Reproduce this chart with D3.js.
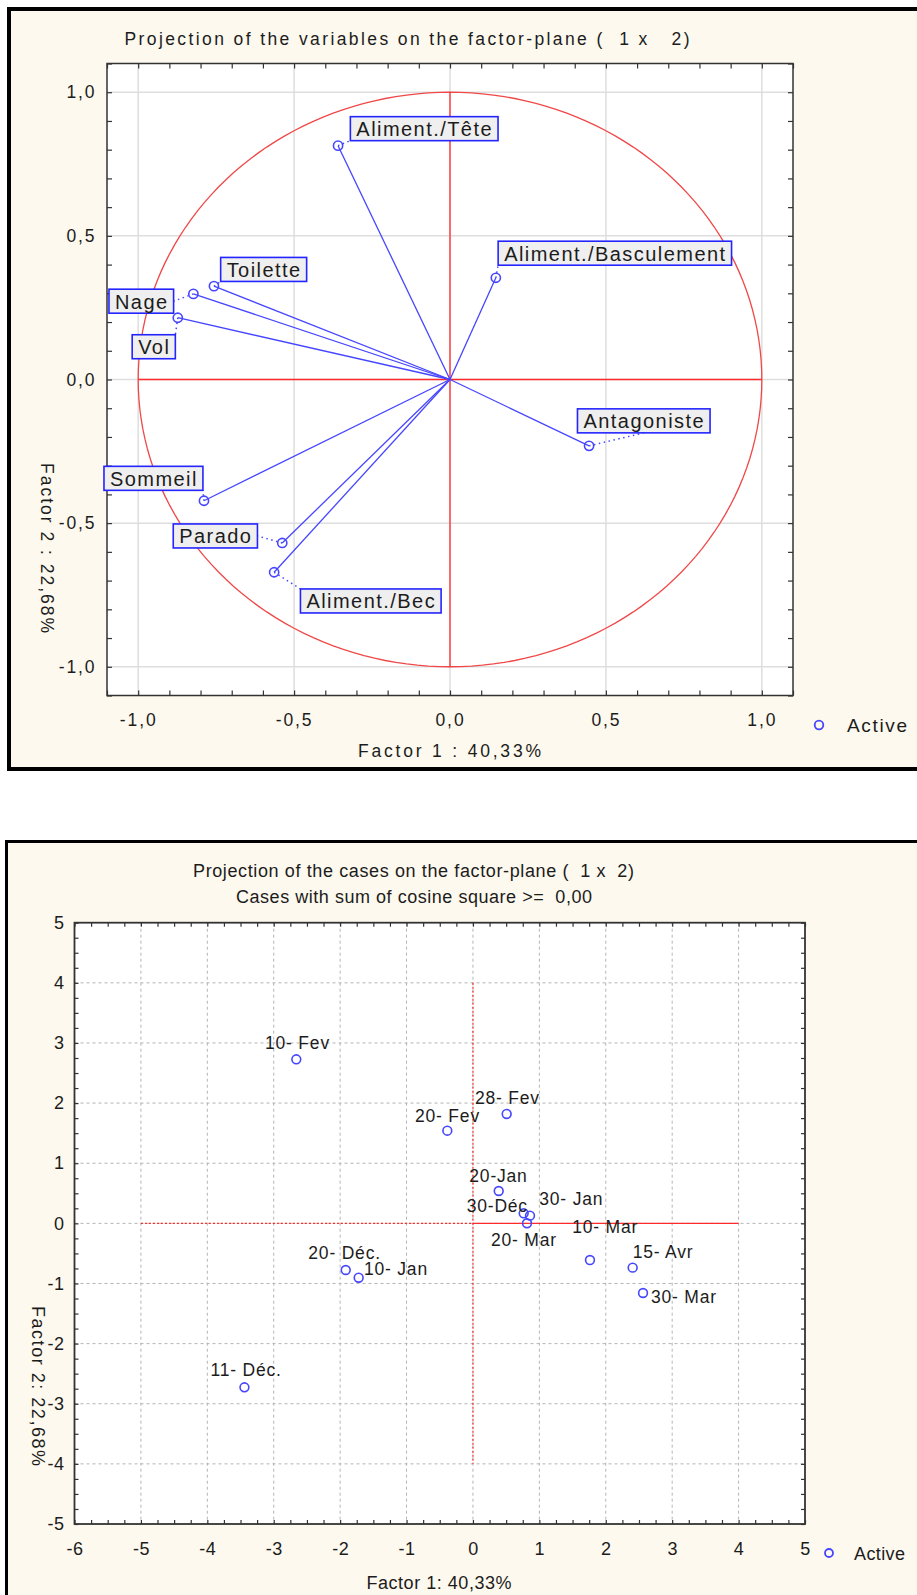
<!DOCTYPE html>
<html>
<head>
<meta charset="utf-8">
<script src="https://cdn.jsdelivr.net/npm/d3@7"></script>
<style>
  body { margin: 0; background: #ffffff; }
  svg { display: block; }
  text { font-family: "Liberation Sans", Arial, sans-serif; fill: #1c1c1c; white-space: pre; }
</style>
</head>
<body>
<svg id="chart" width="917" height="1595"></svg>
<script>
// ---------------- DATA ----------------
// Chart 1 : projection of the variables (factor loadings)
const variableNames = ["Aliment./Tête", "Aliment./Basculement", "Toilette", "Nage", "Vol",
                       "Sommeil", "Parado", "Aliment./Bec", "Antagoniste"];
const variableFactor1 = [-0.359, 0.147, -0.757, -0.823, -0.873, -0.789, -0.538, -0.564, 0.446];
const variableFactor2 = [0.814, 0.354, 0.325, 0.298, 0.215, -0.422, -0.569, -0.671, -0.231];
const variableTicks = [-1.0, -0.5, 0.0, 0.5, 1.0];
const variableMinorTicks = [-1.1, -1.0, -0.9, -0.8, -0.7, -0.6, -0.5, -0.4, -0.3, -0.2, -0.1, 0.0,
                            0.1, 0.2, 0.3, 0.4, 0.5, 0.6, 0.7, 0.8, 0.9, 1.0, 1.1];

// Chart 2 : projection of the cases
const caseNames = ["11- Déc.", "20- Déc.", "30-Déc", "10- Jan", "20-Jan", "30- Jan", "10- Fev",
                   "20- Fev", "28- Fev", "10- Mar", "20- Mar", "30- Mar", "15- Avr"];
const caseFactor1 = [-3.441, -1.916, 0.764, -1.721, 0.388, 0.859, -2.660, -0.386, 0.508, 1.762, 0.814, 2.561, 2.405];
const caseFactor2 = [-2.727, -0.776, 0.167, -0.904, 0.538, 0.128, 2.728, 1.541, 1.819, -0.610, 0.001, -1.158, -0.737];
const caseXTicks = [-6, -5, -4, -3, -2, -1, 0, 1, 2, 3, 4, 5];
const caseYTicks = [-5, -4, -3, -2, -1, 0, 1, 2, 3, 4, 5];
const caseMinorXTicks = d3.range(-6, 5.01, 0.25);
const caseMinorYTicks = d3.range(-5, 5.01, 0.25);

// Texts
const title1 = "Projection of the variables on the factor-plane (  1 x   2)";
const title2a = "Projection of the cases on the factor-plane (  1 x  2)";
const title2b = "Cases with sum of cosine square >=  0,00";
const axisX1Title = "Factor 1 : 40,33%";
const axisY1Title = "Factor 2 : 22,68%";
const axisX2Title = "Factor 1: 40,33%";
const axisY2Title = "Factor 2: 22,68%";
const legendLabel = "Active";

// ---------------- LAYOUT (positions / styles) ----------------
// label box offsets (px) relative to the point
const variableLabelOffsets = [
  [12.3, -29], [2.3, -36.6], [6.7, -28.7], [-84.4, -4.7], [-45.6, 17],
  [-100, -34.4], [-109, -19], [26.3, 16.7], [-11.6, -37]
];
// text start offsets (px) relative to the point
const caseLabelOffsets = [
  [-34, -11.3], [-37.4, -10.7], [-57, -1], [5.3, -2.7], [-29.4, -9.3], [9.3, -10.7],
  [-31.3, -10.3], [-32.3, -9], [-31.7, -10], [-17.7, -26.7], [-36, 22.7], [8, 10.3], [0, -9.4]
];

const BLUE = "#4646ff";
const BOXBLUE = "#2424ff";
const RED = "#ff2a2a";
const CREAM = "#fdf9ee";

const svg = d3.select("#chart");
const locale = d3.formatLocale({decimal: ",", thousands: ".", grouping: [3], currency: ["", ""], minus: "-"});
const fmt1 = locale.format(".1f");
const fmt0 = locale.format("d");

// ---------------- FRAMES ----------------
svg.append("rect").attr("x", 9).attr("y", 9).attr("width", 1000).attr("height", 760)
  .attr("fill", CREAM).attr("stroke", "#000").attr("stroke-width", 4);
svg.append("rect").attr("x", 6.5).attr("y", 841.5).attr("width", 1000).attr("height", 800)
  .attr("fill", CREAM).attr("stroke", "#000").attr("stroke-width", 3);

// ================= CHART 1 =================
const P1 = {l: 107, r: 793, t: 63.5, b: 695.5};
const x1 = d3.scaleLinear([-1.1, 1.1], [P1.l, P1.r]);
const y1 = d3.scaleLinear([-1.1, 1.1], [P1.b, P1.t]);
const g1 = svg.append("g");

g1.append("rect").attr("x", P1.l).attr("y", P1.t).attr("width", P1.r - P1.l).attr("height", P1.b - P1.t)
  .attr("fill", "#fff");

// grid
g1.append("g").selectAll("line").data(variableTicks).join("line")
  .attr("x1", d => x1(d)).attr("x2", d => x1(d)).attr("y1", P1.t).attr("y2", P1.b)
  .attr("stroke", "#dedede").attr("stroke-width", 1.5);
g1.append("g").selectAll("line").data(variableTicks).join("line")
  .attr("y1", d => y1(d)).attr("y2", d => y1(d)).attr("x1", P1.l).attr("x2", P1.r)
  .attr("stroke", "#dedede").attr("stroke-width", 1.5);

// unit circle
const circlePts = d3.range(0, 361, 2).map(a => [Math.cos(a * Math.PI / 180), Math.sin(a * Math.PI / 180)]);
g1.append("path").attr("d", d3.line().x(d => x1(d[0])).y(d => y1(d[1]))(circlePts))
  .attr("fill", "none").attr("stroke", "#f04848").attr("stroke-width", 1.3);
// red axes
g1.append("line").attr("x1", x1(0)).attr("x2", x1(0)).attr("y1", y1(1)).attr("y2", y1(-1))
  .attr("stroke", RED).attr("stroke-width", 1.3);
g1.append("line").attr("x1", x1(-1)).attr("x2", x1(1)).attr("y1", y1(0)).attr("y2", y1(0))
  .attr("stroke", RED).attr("stroke-width", 1.3);

// minor ticks, inward on all four sides
function minorAxis(g, axis, tr) {
  const a = g.append("g").attr("transform", tr).call(axis);
  a.select(".domain").remove();
  a.selectAll("line").attr("stroke", "#333").attr("stroke-width", 1.2);
  a.selectAll("text").remove();
}
minorAxis(g1, d3.axisBottom(x1).tickValues(variableMinorTicks).tickSize(-5).tickFormat(""), `translate(0,${P1.b})`);
minorAxis(g1, d3.axisTop(x1).tickValues(variableMinorTicks).tickSize(-5).tickFormat(""), `translate(0,${P1.t})`);
minorAxis(g1, d3.axisLeft(y1).tickValues(variableMinorTicks).tickSize(-5).tickFormat(""), `translate(${P1.l},0)`);
minorAxis(g1, d3.axisRight(y1).tickValues(variableMinorTicks).tickSize(-5).tickFormat(""), `translate(${P1.r},0)`);

g1.append("rect").attr("x", P1.l).attr("y", P1.t).attr("width", P1.r - P1.l).attr("height", P1.b - P1.t)
  .attr("fill", "none").attr("stroke", "#333").attr("stroke-width", 1.5);

// labels
function labelAxis(g, axis, tr, size, ls) {
  const a = g.append("g").attr("transform", tr).call(axis);
  a.select(".domain").remove();
  a.selectAll("line").remove();
  a.attr("font-family", null).attr("font-size", null);
  a.selectAll("text").style("font-size", size + "px").style("letter-spacing", ls + "px").attr("fill", "#1c1c1c");
  return a;
}
labelAxis(g1, d3.axisBottom(x1).tickValues(variableTicks).tickFormat(fmt1).tickSize(0).tickPadding(18),
  `translate(0,${P1.b})`, 17.5, 1.9);
labelAxis(g1, d3.axisLeft(y1).tickValues(variableTicks).tickFormat(fmt1).tickSize(0).tickPadding(10.5),
  `translate(${P1.l},0)`, 17.5, 1.9);

// titles
g1.append("text").attr("x", 407).attr("y", 44.5).attr("text-anchor", "middle")
  .attr("textLength", 565).attr("lengthAdjust", "spacing").style("font-size", "17.5px").text(title1);
g1.append("text").attr("x", 449.5).attr("y", 757).attr("text-anchor", "middle")
  .attr("textLength", 183).attr("lengthAdjust", "spacing").style("font-size", "17.5px").text(axisX1Title);
g1.append("text").attr("transform", "translate(41,548) rotate(90)").attr("text-anchor", "middle")
  .attr("textLength", 170).attr("lengthAdjust", "spacing").style("font-size", "17.5px").text(axisY1Title);
// legend
g1.append("circle").attr("cx", 819).attr("cy", 725).attr("r", 4.3)
  .attr("fill", "none").attr("stroke", BLUE).attr("stroke-width", 1.8);
g1.append("text").attr("x", 847).attr("y", 731.7).attr("textLength", 60).attr("lengthAdjust", "spacing")
  .style("font-size", "19px").text(legendLabel);

// vectors
const vars = variableNames.map((n, i) => ({name: n, f1: variableFactor1[i], f2: variableFactor2[i], off: variableLabelOffsets[i]}));
g1.append("g").selectAll("line").data(vars).join("line")
  .attr("x1", x1(0)).attr("y1", y1(0)).attr("x2", d => x1(d.f1)).attr("y2", d => y1(d.f2))
  .attr("stroke", BLUE).attr("stroke-width", 1.3);

// label boxes + connectors
const lblG = g1.append("g");
vars.forEach(d => {
  const px = x1(d.f1), py = y1(d.f2);
  const bx = px + d.off[0], by = py + d.off[1], bh = 24;
  const gg = lblG.append("g");
  const t = gg.append("text").attr("x", bx + 6).attr("y", by + 19.5)
    .style("font-size", "20px").style("letter-spacing", "1.45px").text(d.name);
  const tw = t.node().getComputedTextLength();
  const bw = tw + 11;
  gg.insert("rect", "text").attr("x", bx).attr("y", by).attr("width", bw).attr("height", bh)
    .attr("fill", "#efefef").attr("stroke", BOXBLUE).attr("stroke-width", 1.6);
  // connector anchor
  let ax, ay;
  const inX = px >= bx && px <= bx + bw, inY = py >= by && py <= by + bh;
  if (inX) { ax = bx + bw / 2; ay = py < by ? by : by + bh; }
  else if (inY) { ay = by + bh / 2; ax = px < bx ? bx : bx + bw; }
  else { ax = px < bx ? bx : bx + bw; ay = py < by ? by : by + bh; }
  lblG.insert("line", "g").attr("x1", px).attr("y1", py).attr("x2", ax).attr("y2", ay)
    .attr("stroke", BLUE).attr("stroke-width", 1.5).attr("stroke-dasharray", "1.5,3.5");
});
// point markers
g1.append("g").selectAll("circle").data(vars).join("circle")
  .attr("cx", d => x1(d.f1)).attr("cy", d => y1(d.f2)).attr("r", 4.6)
  .attr("fill", "none").attr("stroke", BLUE).attr("stroke-width", 1.6);

// ================= CHART 2 =================
const P2 = {l: 74.5, r: 805, t: 922.7, b: 1524};
const x2 = d3.scaleLinear([-6, 5], [P2.l, P2.r]);
const y2 = d3.scaleLinear([-5, 5], [P2.b, P2.t]);
const g2 = svg.append("g");

g2.append("rect").attr("x", P2.l).attr("y", P2.t).attr("width", P2.r - P2.l).attr("height", P2.b - P2.t)
  .attr("fill", "#fff");
g2.append("g").selectAll("line").data(caseXTicks.slice(1, -1)).join("line")
  .attr("x1", d => x2(d)).attr("x2", d => x2(d)).attr("y1", P2.t).attr("y2", P2.b)
  .attr("stroke", "#b4b4b4").attr("stroke-width", 1).attr("stroke-dasharray", "3,3");
g2.append("g").selectAll("line").data(caseYTicks.slice(1, -1)).join("line")
  .attr("y1", d => y2(d)).attr("y2", d => y2(d)).attr("x1", P2.l).attr("x2", P2.r)
  .attr("stroke", "#b4b4b4").attr("stroke-width", 1).attr("stroke-dasharray", "3,3");

// red reference lines
g2.append("line").attr("x1", x2(0)).attr("x2", x2(0)).attr("y1", y2(4)).attr("y2", y2(-4))
  .attr("stroke", RED).attr("stroke-width", 1.2).attr("stroke-dasharray", "2,2");
g2.append("line").attr("x1", x2(-5)).attr("x2", x2(0)).attr("y1", y2(0)).attr("y2", y2(0))
  .attr("stroke", RED).attr("stroke-width", 1.2).attr("stroke-dasharray", "2,2");
g2.append("line").attr("x1", x2(0)).attr("x2", x2(4)).attr("y1", y2(0)).attr("y2", y2(0))
  .attr("stroke", RED).attr("stroke-width", 1.3);

minorAxis(g2, d3.axisBottom(x2).tickValues(caseMinorXTicks).tickSize(-4).tickFormat(""), `translate(0,${P2.b})`);
minorAxis(g2, d3.axisTop(x2).tickValues(caseMinorXTicks).tickSize(-4).tickFormat(""), `translate(0,${P2.t})`);
minorAxis(g2, d3.axisLeft(y2).tickValues(caseMinorYTicks).tickSize(-4).tickFormat(""), `translate(${P2.l},0)`);
minorAxis(g2, d3.axisRight(y2).tickValues(caseMinorYTicks).tickSize(-4).tickFormat(""), `translate(${P2.r},0)`);
g2.append("rect").attr("x", P2.l).attr("y", P2.t).attr("width", P2.r - P2.l).attr("height", P2.b - P2.t)
  .attr("fill", "none").attr("stroke", "#333").attr("stroke-width", 1.8);

labelAxis(g2, d3.axisBottom(x2).tickValues(caseXTicks).tickFormat(fmt0).tickSize(0).tickPadding(18),
  `translate(0,${P2.b})`, 18, 0.5);
labelAxis(g2, d3.axisLeft(y2).tickValues(caseYTicks).tickFormat(fmt0).tickSize(0).tickPadding(10),
  `translate(${P2.l},0)`, 18, 0.5);

g2.append("text").attr("x", 413.5).attr("y", 876.7).attr("text-anchor", "middle")
  .attr("textLength", 441).attr("lengthAdjust", "spacing").style("font-size", "18px").text(title2a);
g2.append("text").attr("x", 414).attr("y", 903.3).attr("text-anchor", "middle")
  .attr("textLength", 356).attr("lengthAdjust", "spacing").style("font-size", "18px").text(title2b);
g2.append("text").attr("x", 439).attr("y", 1589.3).attr("text-anchor", "middle")
  .attr("textLength", 145).attr("lengthAdjust", "spacing").style("font-size", "18px").text(axisX2Title);
g2.append("text").attr("transform", "translate(32,1386) rotate(90)").attr("text-anchor", "middle")
  .attr("textLength", 160).attr("lengthAdjust", "spacing").style("font-size", "18px").text(axisY2Title);
g2.append("circle").attr("cx", 829).attr("cy", 1553).attr("r", 4)
  .attr("fill", "none").attr("stroke", BLUE).attr("stroke-width", 1.8);
g2.append("text").attr("x", 854).attr("y", 1559.5).attr("textLength", 51).attr("lengthAdjust", "spacing")
  .style("font-size", "18px").text(legendLabel);

const cases = caseNames.map((n, i) => ({name: n, f1: caseFactor1[i], f2: caseFactor2[i], off: caseLabelOffsets[i]}));
g2.append("g").selectAll("circle").data(cases).join("circle")
  .attr("cx", d => x2(d.f1)).attr("cy", d => y2(d.f2)).attr("r", 4.4)
  .attr("fill", "none").attr("stroke", BLUE).attr("stroke-width", 1.6);
g2.append("g").selectAll("text").data(cases).join("text")
  .attr("x", d => x2(d.f1) + d.off[0]).attr("y", d => y2(d.f2) + d.off[1])
  .style("font-size", "17.5px").style("letter-spacing", "0.8px").text(d => d.name);
</script>
</body>
</html>
